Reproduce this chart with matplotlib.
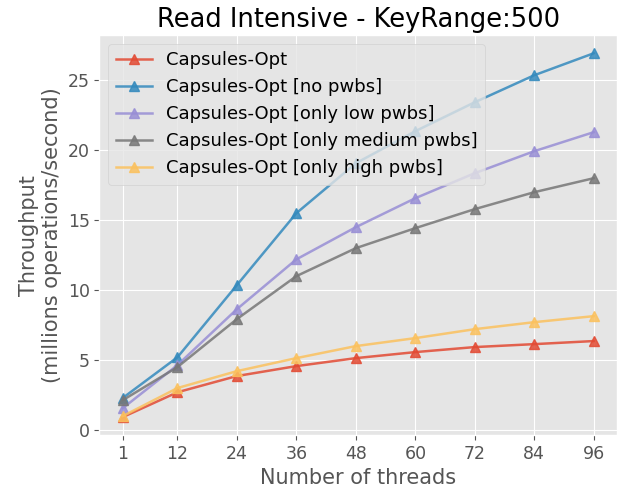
import numpy as np
import matplotlib.pyplot as plt

plt.style.use('ggplot')

threads = [1, 12, 24, 36, 48, 60, 72, 84, 96]
opt = [0.93, 2.7, 3.86, 4.57, 5.14, 5.57, 5.93, 6.14, 6.36]
no_pwbs = [2.3, 5.2, 10.36, 15.5, 19.07, 21.36, 23.43, 25.36, 26.93]
low_pwbs = [1.57, 4.64, 8.64, 12.2, 14.5, 16.57, 18.36, 19.93, 21.29]
medium_pwbs = [2.14, 4.5, 7.93, 11.0, 13.0, 14.43, 15.79, 17.0, 18.0]
high_pwbs = [1.0, 3.0, 4.21, 5.14, 6.0, 6.57, 7.21, 7.71, 8.14]

labels = ["Capsules-Opt", "Capsules-Opt [no pwbs]", "Capsules-Opt [only low pwbs]",
          "Capsules-Opt [only medium pwbs]", "Capsules-Opt [only high pwbs]"]
series = [opt, no_pwbs, low_pwbs, medium_pwbs, high_pwbs]

fig, ax = plt.subplots(figsize=(6.41, 4.94), dpi=100)
for s, lab in zip(series, labels):
    ax.plot(threads, s, marker="^", markersize=7, linewidth=1.8, alpha=0.85, label=lab)

ax.set_title("Read Intensive - KeyRange:500", fontsize=18.5, color="black")
ax.set_xlabel("Number of threads", fontsize=15)
ax.set_ylabel("Throughput\n(millions operations/second)", fontsize=15)
ax.set_xticks(threads)
ax.tick_params(labelsize=12.5)
ax.legend(loc="upper left", fontsize=13)
fig.subplots_adjust(left=0.155, right=0.963, top=0.929, bottom=0.119)
fig.savefig("out.png")
